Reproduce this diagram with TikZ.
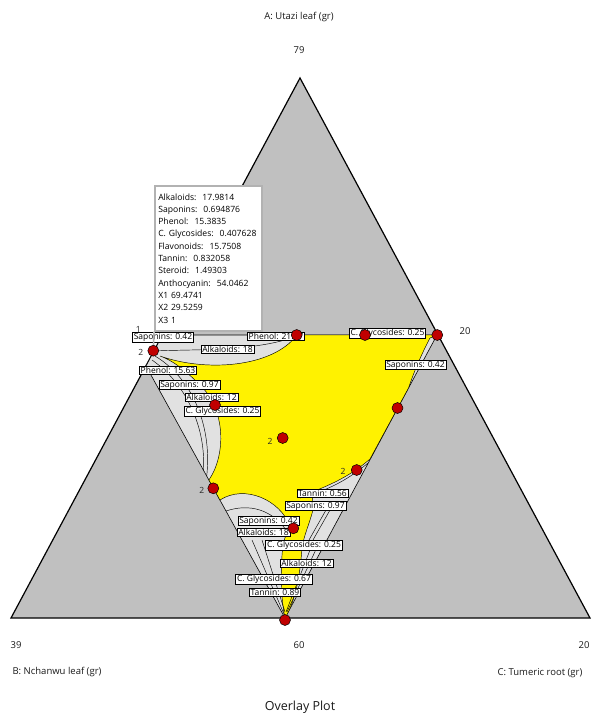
\documentclass[tikz,border=0pt]{standalone}
\usepackage{fontspec}
\setmainfont{Open Sans}
\usepackage{xcolor}
\usepackage{tikz}
\usetikzlibrary{calc,positioning}
\definecolor{outgray}{RGB}{192,192,192}
\definecolor{bandgray}{RGB}{225,225,225}
\definecolor{ptred}{RGB}{192,0,0}
\newcommand{\flagfont}{\fontsize{8.5}{9}\selectfont}
\newcommand{\axisfont}{\fontsize{9.5}{11}\selectfont}
\newcommand{\gap}{\hspace{6pt}}

\tikzset{
	flag/.style={draw=black, fill=white, inner xsep=1.3pt, inner ysep=0.6pt, line width=0.7pt, font=\flagfont},
	dpoint/.style={circle, draw=black, fill=ptred, line width=0.5pt, minimum size=11pt, inner sep=0pt},
	contour/.style={draw=black, line width=0.45pt},
	rep/.style={font=\flagfont, inner sep=0pt, text=black!85},
	axis/.style={font=\axisfont, inner sep=0pt, text=black!90},
	infobox/.style={draw=gray!60, line width=1.6pt, fill=white, align=left, inner sep=3.5pt,
		text width=100pt, minimum height=145pt, font=\fontsize{8.6}{12.3}\selectfont},
}

\begin{document}
\begin{tikzpicture}[x=1pt, y=-1pt]
	\useasboundingbox (0,0) rectangle (592,715);

	% simplex and constrained region
	\draw[fill=outgray, line width=1.2pt] (300,78) -- (11,618) -- (590,618) -- cycle;
	\draw[fill=bandgray, line width=0.6pt] (162.5,335) -- (437,335) -- (285,618) -- (146,366) -- cycle;

	% overlay window
	\draw[contour, fill=yellow]
		(160,356) .. controls (205,372) and (272,368) .. (297,335)
		-- (437,335)
		-- (430,338) .. controls (421,355) and (414,372) .. (408.5,388)
		-- (370,459)
		.. controls (355,472) and (338,482) .. (312,492)
		-- (313,510) .. controls (309,525) and (304,535) .. (302,548)
		.. controls (300,575) and (296,600) .. (285,618)
		.. controls (281,600) and (280,570) .. (283,545)
		.. controls (285,536) and (288,530) .. (290,526)
		.. controls (280,500) and (245,484) .. (219.9,500)
		-- (208.9,480)
		.. controls (226,455) and (226,410) .. (200,385)
		.. controls (185,370) and (172,360) .. (160,356);

	% contour lines in the grey bands
	\draw[contour] (154,351) .. controls (195,349) and (255,352) .. (297,336);
	\draw[contour] (155,356) .. controls (195,380) and (212,430) .. (206.7,476);
	\draw[contour] (152,360) .. controls (188,385) and (206,430) .. (203.4,470);
	\draw[contour] (226,511) .. controls (250,503) and (272,510) .. (286,530);
	\draw[contour] (368,463) .. controls (350,478) and (330,490) .. (300,498);
	\draw[contour] (326,510) -- (309,540);
	\draw[contour] (330,510) -- (313,540);
	\draw[contour] (252,540) -- (284,614);
	\draw[contour] (262,540) -- (285,612);
	\draw[contour] (318,545) -- (287,612);
	\draw[contour] (310,550) -- (286,612);

	% contour flags
	\path (163,337.5) node[flag] (sapA) {Saponins: 0.42}
		(227.5,349) node[flag] (alkA) {Alkaloids: 18}
		(276,336) node[flag] (phenA) {Phenol: 21.17}
		(387.5,333.5) node[flag] (glyA) {C. Glycosides: 0.25}
		(415.5,365) node[flag] (sapB) {Saponins: 0.42}
		(168,370.5) node[flag] (phenB) {Phenol: 15.63}
		(189.5,385) node[flag] (sapC) {Saponins: 0.97}
		(211.5,397.5) node[flag] (alkB) {Alkaloids: 12}
		(222.5,411) node[flag] (glyB) {C. Glycosides: 0.25}
		(322.5,493.5) node[flag] (tanA) {Tannin: 0.56}
		(315.5,506) node[flag] (sapD) {Saponins: 0.97}
		(268.5,521) node[flag] (sapE) {Saponins: 0.42}
		(263.5,532) node[flag] (alkC) {Alkaloids: 18}
		(304,545) node[flag] (glyC) {C. Glycosides: 0.25}
		(306.5,563.5) node[flag] (alkD) {Alkaloids: 12}
		(274,579) node[flag] (glyD) {C. Glycosides: 0.67}
		(275,592.5) node[flag] (tanB) {Tannin: 0.89};

	% design points
	\path (153.3,350.7) node[dpoint] (ptA) {}
		(296.7,335) node[dpoint] (ptB) {}
		(365,335) node[dpoint] (ptC) {}
		(437.3,335) node[dpoint] (ptD) {}
		(397.5,408) node[dpoint] (ptE) {}
		(215,405) node[dpoint] (ptF) {}
		(282.7,438) node[dpoint] (ptG) {}
		(356.7,470) node[dpoint] (ptH) {}
		(213.3,488.3) node[dpoint] (ptI) {}
		(293.3,528.3) node[dpoint] (ptJ) {}
		(285,620) node[dpoint] (ptK) {};

	\path (140.7,352.7) node[rep] (repA) {2}
		(138.3,329.3) node[rep] (oneA) {1}
		(270,441) node[rep] (repG) {2}
		(343,471) node[rep] (repH) {2}
		(201.7,490) node[rep] (repI) {2};

	% point prediction
	\node[infobox, anchor=north west] (info) at (154,185) {Alkaloids:\gap 17.9814\\
		Saponins:\gap 0.694876\\
		Phenol:\gap 15.3835\\
		C. Glycosides:\gap 0.407628\\
		Flavonoids:\gap 15.7508\\
		Tannin:\gap 0.832058\\
		Steroid:\gap 1.49303\\
		Anthocyanin:\gap 54.0462\\
		X1\ 69.4741\\
		X2\ 29.5259\\
		X3\ 1};
	\draw[gray!60, line width=1.6pt] (info.south west) -- (ptA);

	% axes
	\path (299,17) node[axis] (axA) {A: Utazi leaf (gr)}
		(299,50) node[axis] (tkA) {79}
		(465,331) node[axis] (tkAC) {20}
		(16,645) node[axis] (tkB) {39}
		(299,645) node[axis] (tkBC) {60}
		(584,645) node[axis] (tkC) {20}
		(57,672) node[axis] (axB) {B: Nchanwu leaf (gr)}
		(540,673) node[axis] (axC) {C: Tumeric root (gr)}
		(300,707) node[axis, font=\fontsize{12.5}{14}\selectfont] (title) {Overlay Plot};

\end{tikzpicture}
\end{document}
